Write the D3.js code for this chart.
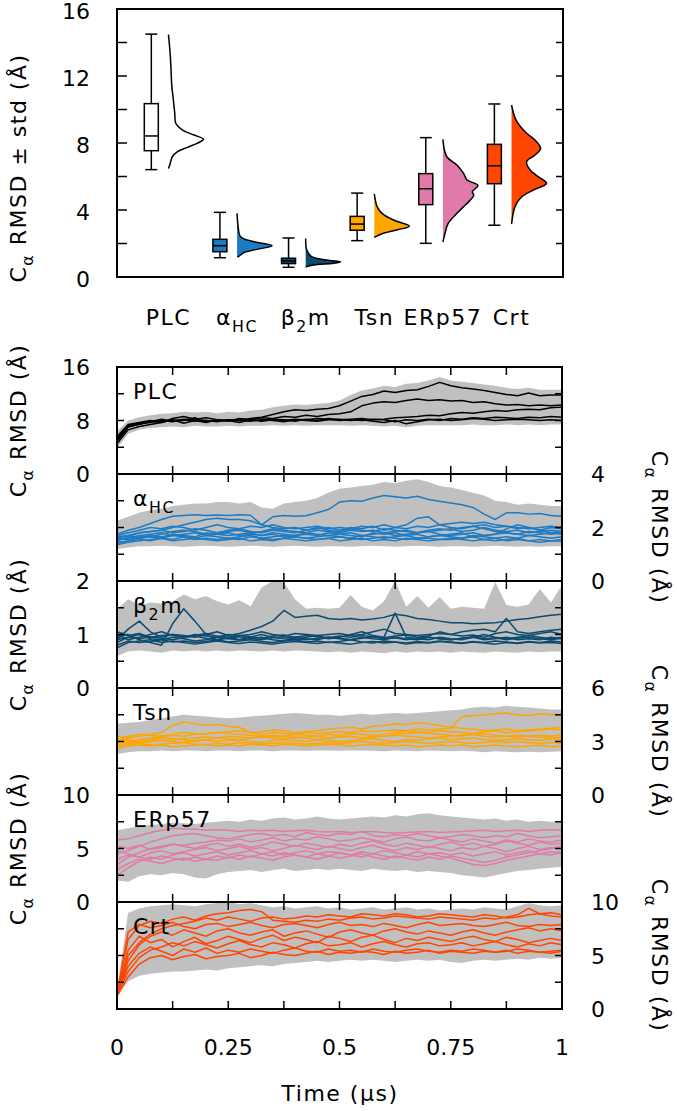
<!DOCTYPE html>
<html><head><meta charset="utf-8">
<script src="https://cdn.jsdelivr.net/npm/d3@7"></script>
<style>
body{margin:0;background:#fff}
text{font-family:'DejaVu Sans',Lato,sans-serif;fill:#000}
.w{letter-spacing:1.5px}
</style>
</head><body>
<svg id="c" width="677" height="1111"></svg>
<script>
// ---------- top panel data ----------
const categories = ["PLC","αHC","β2m","Tsn","ERp57","Crt"];
const colors = ["#000000","#1b7bc4","#0c4b70","#ffa500","#e17aab","#ff4500"];
const whiskerLow  = [6.41, 1.15, 0.58, 2.17, 2.01, 3.09];
const q1          = [7.54, 1.51, 0.80, 2.79, 4.32, 5.57];
const median      = [8.42, 1.87, 0.96, 3.16, 5.27, 6.64];
const q3          = [10.35, 2.25, 1.12, 3.62, 6.17, 7.92];
const whiskerHigh = [14.5, 3.86, 2.33, 5.01, 8.32, 10.33];
const violinValues = [
 [14.47,13.55,12.56,11.56,10.56,9.77,9.17,8.77,8.48,8.22,7.98,7.74,7.48,7.18,6.78,6.47],
 [3.8,3.0,2.41,2.11,1.87,1.65,1.45,1.25,1.2],
 [2.3,1.61,1.21,1.01,0.91,0.82,0.72,0.62,0.6],
 [4.96,4.2,3.8,3.4,3.03,2.81,2.61,2.37],
 [8.22,7.18,6.69,6.19,5.79,5.47,5.09,4.88,4.5,4.2,3.8,3.2,2.61,2.09],
 [10.27,9.37,8.58,8.18,7.68,7.28,6.88,6.39,5.99,5.59,5.19,4.79,4.2,3.16]
];
const violinDensity = [
 [0,0.04,0.07,0.09,0.14,0.18,0.21,0.4,0.73,1.0,0.82,0.54,0.26,0.11,0.05,0],
 [0,0.03,0.1,0.48,1,0.57,0.19,0.06,0],
 [0,0.03,0.17,0.6,1,0.8,0.23,0.03,0],
 [0,0.08,0.22,0.55,1,0.64,0.26,0],
 [0,0.11,0.4,0.59,0.69,1.0,0.84,0.88,0.74,0.59,0.4,0.15,0.06,0],
 [0,0.13,0.43,0.67,0.83,0.67,0.43,0.53,0.76,1.0,0.62,0.29,0.1,0]
];
const topTickLabels = [0,4,8,12,16];
const topMinorTicks = [2,4,6,8,10,12,14];

// ---------- time series data ----------
const T = [0,0.025,0.05,0.075,0.1,0.125,0.15,0.175,0.2,0.225,0.25,0.275,0.3,0.325,0.35,0.375,0.4,0.425,0.45,0.475,0.5,0.525,0.55,0.575,0.6,0.625,0.65,0.675,0.7,0.725,0.75,0.775,0.8,0.825,0.85,0.875,0.9,0.925,0.95,0.975,1];
const timeTicks = [0,0.125,0.25,0.375,0.5,0.625,0.75,0.875,1];
const timeLabels = [0,0.25,0.5,0.75,1];

const plcRuns = [
 [4.8,7.0,7.5,7.7,8.0,7.8,8.1,7.9,8.0,7.8, 8.1,8.0,8.3,8.5,8.9,9.3,9.6,9.5,9.7,9.8, 10.2,10.9,11.6,11.9,12.4,12.2,12.5,12.6,13.1,13.7, 13.2,12.9,12.7,12.5,12.2,11.9,11.7,12.1,11.7,11.8, 11.8],
 [5.3,7.2,7.6,7.9,7.7,8.3,8.6,8.2,8.4,8.1, 7.9,8.3,8.1,8.4,8.3,8.6,8.5,8.8,8.6,8.9, 9.0,9.3,10.2,10.6,10.8,10.7,11.0,11.2,11.0,11.1, 10.9,11.0,10.7,10.8,10.5,10.3,10.4,10.2,10.3,10.2, 10.3],
 [4.5,6.6,7.1,7.4,7.7,8.1,7.6,8.0,7.7,8.1, 8.0,7.7,8.1,8.0,8.2,8.1,7.9,8.2,8.0,8.3, 8.1,8.2,8.3,8.1,8.2,8.4,8.5,8.6,8.8,8.7, 9.0,9.2,9.1,9.3,9.5,9.4,9.6,9.7,9.6,9.9, 10.0],
 [5.0,7.1,7.4,7.8,8.2,7.9,8.0,8.4,7.8,8.0, 8.1,8.0,7.9,8.1,8.0,7.8,8.1,8.0,7.9,8.1, 8.2,8.0,8.1,7.9,7.7,8.0,7.5,7.8,8.1,8.2, 8.0,8.1,8.3,8.2,8.0,8.1,8.2,8.1,8.0,8.1, 8.0],
 [5.6,7.4,7.7,8.0,7.8,8.0,8.2,8.1,8.0,7.9, 8.0,8.2,8.1,7.9,8.1,8.0,8.2,8.1,8.3,8.2, 8.0,8.1,8.0,8.2,8.1,7.8,8.1,8.0,8.2,8.0, 8.3,8.2,8.4,8.3,8.5,8.4,8.3,8.5,8.4,8.6, 8.5]
];
const plcLow  = [3.8,6.0,6.6,6.9,7.0,7.1,7.0,7.2,7.1,7.1, 7.2,7.1,7.2,7.2,7.3,7.2,7.3,7.2,7.3,7.3, 7.3,7.2,7.3,7.2,7.1,7.2,7.0,7.2,7.3,7.3, 7.3,7.3,7.4,7.3,7.3,7.4,7.3,7.4,7.3,7.4, 7.4];
const plcHigh = [6.4,8.0,8.5,8.8,9.0,9.1,9.3,9.2,9.3,9.1, 9.3,9.2,9.5,9.6,10.0,10.2,10.4,10.3,10.5,10.6, 11.0,11.8,12.5,12.8,13.2,13.0,13.5,13.6,14.0,14.5, 14.0,13.8,13.6,13.4,13.2,12.9,12.7,12.9,12.6,12.6, 12.6];

const ahcRuns = [
 [1.75,1.9,2.0,2.15,2.3,2.42,2.45,2.48,2.45,2.47, 2.45,2.48,2.46,2.1,2.4,2.45,2.42,2.44,2.55,2.67, 2.95,3.0,2.98,3.1,3.2,3.15,3.1,3.17,3.05,2.98, 2.92,2.85,2.75,2.5,2.3,2.55,2.55,2.5,2.52,2.45, 2.42],
 [1.6,1.7,1.8,1.85,1.9,2.0,2.1,2.2,2.3,2.35, 2.3,2.3,2.25,2.1,2.0,1.95,2.0,1.9,1.95,2.0, 1.9,2.0,1.95,2.05,1.9,2.0,2.1,2.35,2.4,2.1, 2.0,1.95,2.05,2.1,2.0,2.05,1.95,2.0,1.9,2.0, 1.95],
 [1.7,1.8,1.9,2.0,1.95,2.05,2.0,1.9,2.0,2.1, 2.0,1.95,2.05,2.0,2.1,2.0,1.95,2.0,2.05,1.95, 2.0,1.95,2.05,2.0,2.1,2.0,1.95,2.05,2.0,2.1, 2.15,2.2,2.15,2.2,2.1,2.05,2.0,1.95,2.0,2.05, 2.0],
 [1.5,1.65,1.8,1.85,1.9,1.8,1.85,1.95,1.9,1.8, 1.85,1.9,1.8,1.85,1.95,1.9,1.85,1.8,1.9,1.85, 1.8,1.9,1.85,1.9,1.8,1.85,1.9,1.8,1.85,1.9, 1.95,1.85,1.9,2.0,1.9,1.85,1.9,1.8,1.85,1.9, 1.85],
 [1.55,1.6,1.7,1.75,1.8,1.7,1.75,1.8,1.7,1.75, 1.8,1.7,1.75,1.7,1.8,1.75,1.7,1.8,1.75,1.7, 1.75,1.8,1.7,1.75,1.8,1.7,1.75,1.8,1.85,1.75, 1.7,1.75,1.8,1.7,1.75,1.8,1.75,1.7,1.75,1.8, 1.75],
 [1.4,1.5,1.6,1.65,1.6,1.7,1.65,1.6,1.7,1.65, 1.6,1.65,1.7,1.6,1.65,1.7,1.65,1.6,1.65,1.7, 1.65,1.6,1.7,1.65,1.6,1.65,1.7,1.6,1.65,1.7, 1.65,1.6,1.7,1.65,1.6,1.65,1.6,1.7,1.65,1.6, 1.65],
 [1.35,1.45,1.5,1.55,1.6,1.5,1.55,1.6,1.55,1.5, 1.55,1.6,1.5,1.55,1.5,1.6,1.55,1.5,1.55,1.6, 1.5,1.55,1.6,1.5,1.55,1.5,1.6,1.55,1.5,1.55, 1.6,1.55,1.5,1.55,1.6,1.5,1.55,1.5,1.55,1.5, 1.55],
 [1.65,1.7,1.6,1.65,1.75,1.85,1.9,1.85,1.75,1.8, 1.9,1.95,1.85,1.8,1.9,1.85,1.8,1.9,2.0,1.9, 1.85,1.95,1.9,1.85,1.95,1.9,1.85,1.8,1.9,1.95, 1.9,2.0,2.05,1.95,1.85,1.8,1.75,1.85,1.8,1.75, 1.8],
 [1.6,1.55,1.65,1.7,1.65,1.75,1.7,1.65,1.8,1.75, 1.7,1.75,1.8,1.7,1.75,1.65,1.7,1.75,1.7,1.8, 1.75,1.7,1.65,1.8,1.75,1.8,1.7,1.75,1.65,1.7, 1.75,1.8,1.65,1.7,1.75,1.95,2.1,2.0,1.9,1.8, 1.85],
 [1.45,1.5,1.55,1.5,1.6,1.55,1.65,1.55,1.6,1.55, 1.6,1.55,1.65,1.6,1.55,1.6,1.65,1.6,1.55,1.6, 1.65,1.6,1.55,1.6,1.65,1.6,1.55,1.6,1.6,1.55, 1.55,1.6,1.65,1.55,1.5,1.55,1.6,1.5,1.45,1.5, 1.5]
];
const ahcLow  = [1.2,1.25,1.3,1.3,1.32,1.3,1.28,1.3,1.32,1.3, 1.28,1.3,1.32,1.3,1.28,1.3,1.32,1.3,1.28,1.3, 1.3,1.28,1.3,1.32,1.3,1.28,1.3,1.32,1.3,1.28, 1.3,1.3,1.28,1.3,1.32,1.3,1.28,1.3,1.28,1.3, 1.3];
const ahcHigh = [2.25,2.4,2.55,2.65,2.7,2.8,2.85,2.9,2.9,2.95, 2.95,2.9,2.95,2.75,2.7,2.9,2.95,3.0,3.1,3.3, 3.45,3.5,3.55,3.6,3.7,3.65,3.75,3.8,3.7,3.55, 3.5,3.4,3.3,3.2,3.0,2.95,2.85,2.9,2.85,2.8, 2.8];

const b2mRuns = [
 [0.95,1.0,0.9,0.85,0.8,1.2,1.48,1.25,1.0,0.9, 0.95,0.9,0.92,0.95,0.9,0.88,0.95,0.92,0.9,0.95, 0.93,0.9,0.95,0.92,0.9,0.95,0.92,0.9,0.95,0.92, 0.9,0.93,0.95,0.9,0.92,0.95,0.9,0.92,0.9,0.95, 0.92],
 [0.9,1.1,1.25,1.05,0.95,1.0,0.98,0.95,1.0,1.05, 0.98,1.02,1.08,1.15,1.25,1.45,1.32,1.34,1.36,1.3, 1.28,1.3,1.27,1.29,1.32,1.38,1.35,1.3,1.28,1.25, 1.22,1.22,1.2,1.21,1.22,1.25,1.28,1.3,1.33,1.36, 1.38],
 [0.85,0.95,1.0,0.92,0.9,0.95,0.92,0.88,0.9,0.95, 0.92,0.9,0.95,1.0,0.95,0.92,0.9,0.95,0.98,0.92, 0.95,1.0,1.05,0.98,0.95,1.4,0.95,0.92,0.9,0.95, 0.92,0.9,0.95,1.0,0.95,0.92,0.95,0.98,0.95,0.92, 0.95],
 [1.0,0.9,0.95,1.0,1.05,0.98,0.95,1.0,0.97,0.95, 1.0,0.98,1.0,1.05,1.0,0.97,1.02,1.0,0.98,1.0, 1.02,0.98,1.0,1.05,1.1,1.02,1.0,0.98,1.0,1.02, 1.0,1.05,1.08,1.1,1.05,1.3,1.05,1.02,1.05,1.08, 1.1],
 [0.75,0.85,0.88,0.9,0.85,0.88,0.85,0.82,0.85,0.88, 0.85,0.83,0.86,0.84,0.82,0.85,0.87,0.85,0.83,0.86, 0.84,0.82,0.85,0.87,0.84,0.86,0.82,0.85,0.84,0.87, 0.85,0.83,0.86,0.84,0.82,0.85,0.83,0.86,0.84,0.85, 0.83],
 [0.9,0.95,0.92,0.96,0.93,0.9,0.94,0.97,0.93,0.9, 0.93,0.96,0.92,0.9,0.94,0.96,0.92,0.9,0.93,0.95, 0.92,0.9,0.93,0.96,0.92,0.94,0.9,0.93,0.95,0.92, 0.9,0.93,0.96,0.92,0.94,0.9,0.93,0.95,0.92,0.9, 0.93],
 [1.05,0.98,1.02,0.95,0.98,1.0,0.96,0.98,1.02,0.97, 0.95,0.98,0.96,0.93,0.97,0.99,0.95,0.98,0.96,0.94, 0.97,0.95,0.98,0.96,0.94,0.97,0.99,0.95,0.97,1.05, 1.0,0.97,0.99,0.95,1.02,1.05,1.0,0.98,1.02,1.05, 1.0],
 [0.8,0.88,0.85,0.87,0.9,0.86,0.88,0.85,0.87,0.9, 0.86,0.88,0.9,0.87,0.85,0.88,0.9,0.86,0.88,0.85, 0.87,0.9,0.86,0.84,0.88,0.86,0.84,0.87,0.85,0.88, 0.86,0.84,0.87,0.85,0.88,0.86,0.84,0.87,0.85,0.88, 0.86]
];
const b2mLow  = [0.6,0.68,0.7,0.68,0.66,0.7,0.68,0.7,0.68,0.7, 0.68,0.7,0.69,0.68,0.7,0.68,0.7,0.69,0.68,0.67, 0.68,0.66,0.68,0.67,0.65,0.68,0.66,0.68,0.67,0.68, 0.66,0.68,0.67,0.66,0.68,0.67,0.66,0.68,0.67,0.68, 0.68];
const b2mHigh = [1.47,1.66,1.55,1.6,1.58,1.62,1.75,1.66,1.72,1.62, 1.56,1.64,1.53,1.88,2.0,1.97,1.66,1.48,1.5,1.48, 1.5,1.74,1.52,1.45,1.62,2.0,1.52,1.72,1.5,1.7, 1.48,1.52,1.5,1.48,1.98,1.55,1.52,1.56,1.85,1.6, 1.92];

const tsnRuns = [
 [3.0,3.2,3.3,3.4,3.5,3.9,4.1,4.0,3.9,3.95, 3.85,3.8,3.5,3.4,3.5,3.45,3.4,3.5,3.45,3.5, 3.55,3.5,3.6,3.55,3.6,3.65,3.6,3.7,3.65,3.7, 3.75,4.4,4.45,4.5,4.55,4.6,4.5,4.45,4.55,4.5, 4.45],
 [2.7,2.9,3.1,3.2,3.3,3.35,3.3,3.4,3.45,3.5, 3.55,3.6,3.5,3.55,3.65,3.6,3.5,3.55,3.6,3.7, 3.75,3.8,3.7,3.85,3.9,4.0,3.95,4.05,4.0,3.9, 3.8,3.75,3.7,3.6,3.65,3.7,3.6,3.65,3.7,3.75, 3.8],
 [2.9,3.0,3.1,3.0,3.2,3.1,3.15,3.2,3.25,3.2, 3.3,3.25,3.2,3.3,3.35,3.3,3.4,3.35,3.3,3.4, 3.35,3.45,3.4,3.35,3.3,3.4,3.45,3.5,3.45,3.4, 3.35,3.3,3.4,3.45,3.35,3.3,3.25,3.3,3.35,3.3, 3.4],
 [3.1,3.0,2.9,3.0,3.05,3.0,2.95,3.05,3.1,3.0, 3.05,3.1,3.0,2.95,3.05,3.1,3.05,3.0,3.1,3.05, 3.0,3.05,3.1,3.15,3.05,3.0,3.1,3.05,3.15,3.2, 3.1,3.15,3.2,3.1,3.05,3.1,3.15,3.1,3.05,3.15, 3.1],
 [2.8,2.85,2.9,2.8,2.85,2.9,2.95,2.85,2.8,2.9, 2.85,2.95,2.9,2.85,2.9,2.95,2.9,2.85,2.9,2.95, 2.9,2.95,3.0,2.95,2.9,2.95,3.0,2.95,2.9,2.95, 3.0,2.95,2.9,2.95,3.0,2.95,3.0,2.95,2.9,2.95, 2.9],
 [3.2,3.3,3.4,3.35,3.3,3.4,3.5,3.45,3.4,3.5, 3.45,3.4,3.35,3.3,3.25,3.3,3.2,3.25,3.3,3.2, 3.25,3.3,3.2,3.25,3.3,3.35,3.3,3.25,3.2,3.25, 3.3,3.35,3.4,3.3,3.25,3.3,3.35,3.3,3.25,3.2, 3.25],
 [2.6,2.75,2.8,2.75,2.8,2.7,2.75,2.8,2.85,2.75, 2.8,2.75,2.85,2.8,2.75,2.85,2.8,2.75,2.8,2.85, 2.8,2.75,2.8,2.85,2.8,2.75,2.8,2.7,2.75,2.8, 2.75,2.8,2.7,2.75,2.8,2.75,2.7,2.75,2.8,2.7, 2.75],
 [3.3,3.1,3.0,3.1,3.2,3.15,3.1,3.0,3.1,3.2, 3.15,3.1,3.2,3.25,3.2,3.15,3.25,3.2,3.1,3.2, 3.25,3.3,3.2,3.3,3.4,3.5,3.6,3.55,3.5,3.6, 3.55,3.5,3.45,3.55,3.6,3.5,3.55,3.6,3.65,3.7, 3.65]
];
const tsnLow  = [2.3,2.4,2.45,2.45,2.5,2.45,2.5,2.5,2.45,2.5, 2.5,2.45,2.5,2.5,2.45,2.5,2.5,2.48,2.5,2.5, 2.48,2.5,2.5,2.48,2.45,2.5,2.48,2.45,2.5,2.48, 2.45,2.48,2.45,2.4,2.45,2.42,2.4,2.42,2.4,2.42, 2.45];
const tsnHigh = [4.0,4.05,4.1,4.2,4.3,4.4,4.5,4.45,4.4,4.35, 4.3,4.35,4.4,4.45,4.5,4.55,4.6,4.55,4.5,4.5, 4.45,4.5,4.55,4.5,4.55,4.6,4.55,4.6,4.65,4.7, 4.75,4.8,4.9,4.95,4.9,5.0,4.95,4.9,4.85,4.8, 4.8];

const erpRuns = [
 [5.8,5.9,6.2,6.5,6.7,6.9,6.85,6.8,6.7,6.75, 6.7,6.6,6.7,6.65,6.7,6.6,6.65,6.7,6.6,6.55, 6.6,6.5,6.55,6.6,6.5,6.45,6.5,6.55,6.6,6.5, 6.55,6.6,6.65,6.7,6.6,6.65,6.7,6.6,6.7,6.75, 6.7],
 [4.5,4.8,5.2,5.6,5.9,6.2,6.3,6.4,6.2,6.0, 5.9,6.1,6.3,6.4,6.2,6.3,6.1,6.5,6.3,6.2, 6.4,6.3,6.6,6.2,6.1,6.3,6.2,6.4,6.2,6.0, 6.1,6.3,6.2,6.0,6.2,6.1,6.4,6.2,6.0,6.1, 6.2],
 [3.5,4.2,4.6,5.0,5.2,5.4,5.3,5.5,5.6,5.8, 5.7,5.9,5.6,5.8,6.0,5.7,5.9,5.8,6.1,5.9, 5.7,5.8,6.0,5.8,5.6,5.9,6.1,5.8,5.7,6.0, 5.8,5.6,5.9,5.7,5.5,5.8,5.6,5.9,5.7,5.6, 5.8],
 [5.2,5.0,5.3,4.9,5.1,5.4,5.2,5.0,5.3,5.5, 5.2,5.4,5.1,5.3,5.6,5.4,5.2,5.5,5.3,5.1, 5.4,5.2,5.5,5.7,5.4,5.2,5.5,5.3,5.1,5.4, 5.6,5.3,5.5,5.2,5.4,5.7,5.5,5.3,5.6,5.4, 5.5],
 [4.0,4.4,4.2,4.6,4.8,4.5,4.7,4.9,5.1,4.8, 5.0,5.2,4.9,5.1,4.8,5.0,5.3,5.1,4.9,5.2, 5.0,4.8,5.1,5.3,5.0,4.8,5.1,4.9,5.2,5.0, 4.8,5.1,4.9,5.2,5.0,4.7,5.0,5.2,4.9,5.1, 5.0],
 [2.5,3.2,3.8,4.2,4.0,4.4,4.6,4.3,4.5,4.7, 4.4,4.6,4.8,4.5,4.7,4.4,4.6,4.8,4.5,4.7, 4.6,4.4,4.7,4.5,4.8,4.6,4.4,4.7,4.5,4.6, 4.4,4.6,4.3,4.5,4.7,4.4,4.6,4.8,4.5,4.7, 4.6],
 [4.8,4.5,4.2,4.0,4.3,4.1,3.9,4.2,4.0,4.3, 4.1,4.4,4.2,4.5,4.3,4.6,4.4,4.2,4.5,4.3, 4.6,4.4,4.2,4.5,4.3,4.1,4.4,4.2,4.5,4.3, 4.1,3.8,3.5,3.4,3.6,3.9,4.1,4.3,4.5,4.4, 4.6],
 [3.0,3.6,4.0,3.8,3.6,3.9,4.1,3.8,4.0,3.9, 4.2,4.0,4.3,4.1,3.9,4.2,4.4,4.2,4.0,4.3, 4.1,4.3,4.5,4.2,4.0,4.3,4.1,3.9,4.2,4.0, 4.3,4.1,3.9,3.7,3.9,4.2,4.4,4.6,4.8,5.0, 5.2]
];
const erpLow  = [2.0,1.9,2.4,2.6,2.5,2.7,2.6,2.3,2.2,2.6, 2.8,2.9,3.0,2.8,3.0,3.1,2.9,3.0,3.1,3.0, 3.1,3.0,2.9,3.1,3.0,2.9,3.0,2.8,2.9,2.8, 2.7,2.5,2.4,2.3,2.5,2.7,2.9,3.0,3.1,3.2, 3.3];
const erpHigh = [6.7,6.9,7.1,7.2,7.3,7.4,7.35,7.3,7.4,7.5, 7.6,7.5,7.7,7.6,7.8,7.9,7.7,7.8,8.0,7.8, 7.7,7.8,7.9,8.0,7.9,8.1,8.0,8.2,8.3,8.1, 8.0,7.9,7.8,7.7,7.8,7.6,7.7,7.5,7.6,7.5, 7.5];

const crtRuns = [
 [1.3,6.5,7.8,8.2,8.0,8.4,8.6,8.3,8.7,8.9, 9.0,9.2,9.3,9.1,8.3,8.2,8.1,8.3,8.2,8.4, 8.3,8.5,8.6,8.4,8.5,8.7,8.6,8.5,8.4,8.6, 8.5,8.4,8.3,8.5,8.4,8.6,8.8,9.4,8.9,9.0, 8.8],
 [1.2,5.0,6.2,7.0,7.5,7.8,8.0,8.2,8.5,8.3, 8.6,8.4,8.2,8.5,8.6,8.4,8.5,8.7,8.6,8.8, 8.7,8.6,8.9,8.8,8.7,8.9,8.8,8.6,8.7,8.9, 8.8,8.7,8.6,8.8,8.7,8.5,8.6,8.8,8.9,8.7, 8.6],
 [1.4,7.2,7.9,7.6,7.8,8.1,7.7,7.5,7.9,8.0, 7.7,7.9,8.1,7.8,7.6,7.9,8.0,7.8,7.6,7.9, 8.1,7.8,7.9,7.7,8.0,7.8,7.6,7.9,8.1,7.8, 7.9,8.0,7.8,7.7,7.9,8.1,7.8,7.7,7.9,7.8, 7.9],
 [1.3,4.5,6.0,6.8,7.2,6.9,7.4,7.1,6.8,7.3, 7.5,7.1,6.9,7.2,7.4,6.8,7.1,7.3,7.0,6.7, 7.2,7.4,7.1,6.9,7.3,7.5,7.2,7.0,7.3,7.1, 6.9,7.2,7.4,7.1,6.9,7.2,7.4,7.6,7.3,7.5, 7.3],
 [1.2,5.5,6.8,6.2,6.5,5.8,6.3,6.7,6.1,6.4, 6.8,6.5,6.2,6.6,6.9,6.4,6.7,6.5,6.2,6.8, 6.6,6.3,6.7,6.9,6.5,6.2,6.6,6.4,6.7,6.5, 6.3,6.6,6.8,6.5,6.3,6.7,6.5,6.2,6.4,6.6, 6.4],
 [1.3,3.5,4.8,5.5,5.8,6.2,5.9,6.3,6.0,5.7, 6.1,6.4,6.0,5.8,6.2,6.0,5.7,6.1,6.3,5.9, 6.0,6.2,5.8,6.1,6.3,6.0,5.8,6.1,6.2,5.9, 6.0,6.2,5.9,6.1,6.3,6.0,5.8,6.1,5.9,6.2, 6.0],
 [1.4,4.0,5.2,5.8,5.4,5.0,5.6,5.3,5.7,5.2, 5.5,5.3,5.6,5.4,5.2,5.5,5.7,5.4,5.3,5.6, 5.4,5.5,5.3,5.6,5.4,5.3,5.5,5.6,5.4,5.3, 5.5,5.4,5.6,5.5,5.3,5.4,5.6,5.5,5.3,5.4, 5.5],
 [1.2,3.0,4.2,4.8,5.0,4.6,4.9,5.1,4.7,4.9, 5.0,5.2,4.8,5.0,5.3,5.1,5.0,5.2,5.4,5.1, 5.3,5.2,5.4,5.3,5.1,5.4,5.2,5.3,5.5,5.2, 5.4,5.3,5.2,5.4,5.3,5.5,5.2,5.4,5.3,5.2, 5.4]
];
const crtLow  = [1.2,2.6,3.1,3.3,3.4,3.5,3.5,3.6,3.7,3.6, 3.8,3.9,4.0,4.1,4.0,4.2,4.3,4.4,4.5,4.4, 4.5,4.6,4.5,4.6,4.5,4.4,4.5,4.6,4.5,4.6, 4.4,4.3,4.5,4.6,4.5,4.6,4.7,4.6,4.8,4.7, 4.8];
const crtHigh = [1.8,9.0,9.4,9.6,9.7,9.8,9.7,9.6,9.8,9.9, 10.0,9.8,9.9,9.7,9.5,9.6,9.4,9.5,9.6,9.4, 9.5,9.3,9.4,9.5,9.3,9.4,9.5,9.3,9.4,9.2, 9.3,9.4,9.3,9.5,9.4,9.3,9.6,9.9,9.7,9.6, 9.7];

const panelMax = [16, 4, 2, 6, 10, 10];
const panelTickLabels = [[0,8,16],[0,2,4],[0,1,2],[0,3,6],[0,5,10],[0,5,10]];
const panelMinorTicks = [[4,8,12],[1,2,3],[0.5,1,1.5],[1.5,3,4.5],[2.5,5,7.5],[2.5,5,7.5]];
const panelLabelSide = ["left","right","left","right","left","right"];
const panelRuns = [plcRuns, ahcRuns, b2mRuns, tsnRuns, erpRuns, crtRuns];
const panelLow  = [plcLow, ahcLow, b2mLow, tsnLow, erpLow, crtLow];
const panelHigh = [plcHigh, ahcHigh, b2mHigh, tsnHigh, erpHigh, crtHigh];

// ---------- helpers ----------
const svg = d3.select("#c");
const FS = 22;
function richParts(name){
  if (name === "αHC") return [["α",0],["HC",1]];
  if (name === "β2m") return [["β",0],["2",1],["m",0]];
  if (name === "Cα RMSD (Å)") return [["C",0],["α",1],[" RMSD (Å)",0]];
  if (name === "Cα RMSD ± std (Å)") return [["C",0],["α",1],[" RMSD ± std (Å)",0]];
  return [[name,0]];
}
function addRich(sel, name, size){
  let shift = 0;
  richParts(name).forEach(([s, sub]) => {
    const ts = sel.append("tspan").text(s);
    if (sub) { ts.attr("font-size", size*0.72).attr("dy", size*0.3); shift = size*0.3; }
    else if (shift) { ts.attr("dy", -shift); shift = 0; }
  });
}

// ---------- top panel ----------
const xTop = d3.scaleLinear().domain([0, 6.5]).range([117, 563]);
const yTop = d3.scaleLinear().domain([0, 16]).range([277, 9]);
const boxHalf = 7, capHalf = 6, violinW = 35;
const gTop = svg.append("g");

categories.forEach((c, i) => {
  const cx = xTop(i + 0.5);
  const base = xTop(i + 0.75);
  const col = colors[i];
  const fill = i === 0 ? "#fff" : col;
  gTop.append("line").attr("x1", cx).attr("x2", cx).attr("y1", yTop(whiskerHigh[i])).attr("y2", yTop(q3[i])).attr("stroke","#000").attr("stroke-width",1.5);
  gTop.append("line").attr("x1", cx).attr("x2", cx).attr("y1", yTop(q1[i])).attr("y2", yTop(whiskerLow[i])).attr("stroke","#000").attr("stroke-width",1.5);
  [whiskerHigh[i], whiskerLow[i]].forEach(v => {
    gTop.append("line").attr("x1", cx-capHalf).attr("x2", cx+capHalf).attr("y1", yTop(v)).attr("y2", yTop(v)).attr("stroke","#000").attr("stroke-width",1.5);
  });
  gTop.append("rect").attr("x", cx-boxHalf).attr("width", 2*boxHalf)
    .attr("y", yTop(q3[i])).attr("height", yTop(q1[i]) - yTop(q3[i]))
    .attr("fill", fill).attr("stroke","#000").attr("stroke-width",1.5);
  gTop.append("line").attr("x1", cx-boxHalf).attr("x2", cx+boxHalf).attr("y1", yTop(median[i])).attr("y2", yTop(median[i])).attr("stroke","#000").attr("stroke-width",1.5);
  const pts = violinValues[i].map((v, k) => [v, violinDensity[i][k]]);
  const area = d3.area().curve(d3.curveCatmullRom.alpha(0.5))
    .y(d => yTop(d[0])).x0(base).x1(d => base + d[1]*violinW);
  if (i > 0) gTop.append("path").attr("d", area(pts)).attr("fill", col).attr("stroke","none");
  const edge = d3.line().curve(d3.curveCatmullRom.alpha(0.5))
    .y(d => yTop(d[0])).x(d => base + d[1]*violinW);
  gTop.append("path").attr("d", edge(pts)).attr("fill","none").attr("stroke","#000").attr("stroke-width",1.5);
  const t = gTop.append("text").attr("class","w").attr("x", base).attr("y", 325).attr("text-anchor","middle").attr("font-size", FS);
  addRich(t, c, FS);
});
gTop.append("rect").attr("x",117).attr("y",9).attr("width",446).attr("height",268).attr("fill","none").attr("stroke","#000").attr("stroke-width",2);
topMinorTicks.forEach(v => {
  gTop.append("line").attr("x1",117).attr("x2",127).attr("y1",yTop(v)).attr("y2",yTop(v)).attr("stroke","#000").attr("stroke-width",1.5);
  gTop.append("line").attr("x1",556).attr("x2",563).attr("y1",yTop(v)).attr("y2",yTop(v)).attr("stroke","#000").attr("stroke-width",1.5);
});
topTickLabels.forEach(v => {
  gTop.append("text").attr("x",90).attr("y",yTop(v)+9.5).attr("text-anchor","end").attr("font-size",FS).text(v);
});
{
  const t = svg.append("text").attr("class","w").attr("transform","translate(26,168) rotate(-90)").attr("text-anchor","middle").attr("font-size",FS);
  addRich(t, "Cα RMSD ± std (Å)", FS);
}

// ---------- time series panels ----------
const xB = d3.scaleLinear().domain([0,1]).range([117,562]);
const panelTop0 = 367, panelH = 107;
const gB = svg.append("g");
categories.forEach((c, i) => {
  const top = panelTop0 + i*panelH, bot = top + panelH;
  const y = d3.scaleLinear().domain([0, panelMax[i]]).range([bot, top]);
  const band = d3.area().x((d,k) => xB(T[k])).y0((d,k) => y(panelLow[i][k])).y1((d,k) => y(panelHigh[i][k]));
  gB.append("path").attr("d", band(T)).attr("fill","#c0c0c0");
  const line = d3.line().x((d,k) => xB(T[k])).y(d => y(d));
  panelRuns[i].forEach(run => {
    gB.append("path").attr("d", line(run)).attr("fill","none").attr("stroke", colors[i]).attr("stroke-width",1.5).attr("stroke-linejoin","round");
  });
});
categories.forEach((c, i) => {
  const top = panelTop0 + i*panelH, bot = top + panelH;
  const y = d3.scaleLinear().domain([0, panelMax[i]]).range([bot, top]);
  gB.append("rect").attr("x",117).attr("y",top).attr("width",445).attr("height",panelH).attr("fill","none").attr("stroke","#000").attr("stroke-width",2);
  timeTicks.slice(1,-1).forEach(t => {
    gB.append("line").attr("x1",xB(t)).attr("x2",xB(t)).attr("y1",top).attr("y2",top+8).attr("stroke","#000").attr("stroke-width",1.5);
    gB.append("line").attr("x1",xB(t)).attr("x2",xB(t)).attr("y1",bot-8).attr("y2",bot).attr("stroke","#000").attr("stroke-width",1.5);
  });
  panelMinorTicks[i].forEach(v => {
    gB.append("line").attr("x1",117).attr("x2",124).attr("y1",y(v)).attr("y2",y(v)).attr("stroke","#000").attr("stroke-width",1.5);
    gB.append("line").attr("x1",555).attr("x2",562).attr("y1",y(v)).attr("y2",y(v)).attr("stroke","#000").attr("stroke-width",1.5);
  });
  const left = panelLabelSide[i] === "left";
  panelTickLabels[i].forEach(v => {
    gB.append("text").attr("x", left ? 90 : 591).attr("y", y(v)+8)
      .attr("text-anchor", left ? "end" : "start").attr("font-size",FS).text(v);
  });
  const cy = (top + bot)/2;
  const lab = gB.append("text").attr("class","w").attr("font-size",FS).attr("text-anchor","middle")
    .attr("transform", left ? `translate(26,${cy}) rotate(-90)` : `translate(652,${cy}) rotate(90)`);
  addRich(lab, "Cα RMSD (Å)", FS);
  const nm = gB.append("text").attr("class","w").attr("x",133).attr("y",top+32).attr("font-size",FS);
  addRich(nm, c, FS);
});
timeLabels.forEach(t => {
  gB.append("text").attr("x", xB(t)).attr("y",1055).attr("text-anchor","middle").attr("font-size",FS).text(t);
});
gB.append("text").attr("class","w").attr("x",340).attr("y",1101).attr("text-anchor","middle").attr("font-size",FS).text("Time (μs)");
</script>
</body></html>
